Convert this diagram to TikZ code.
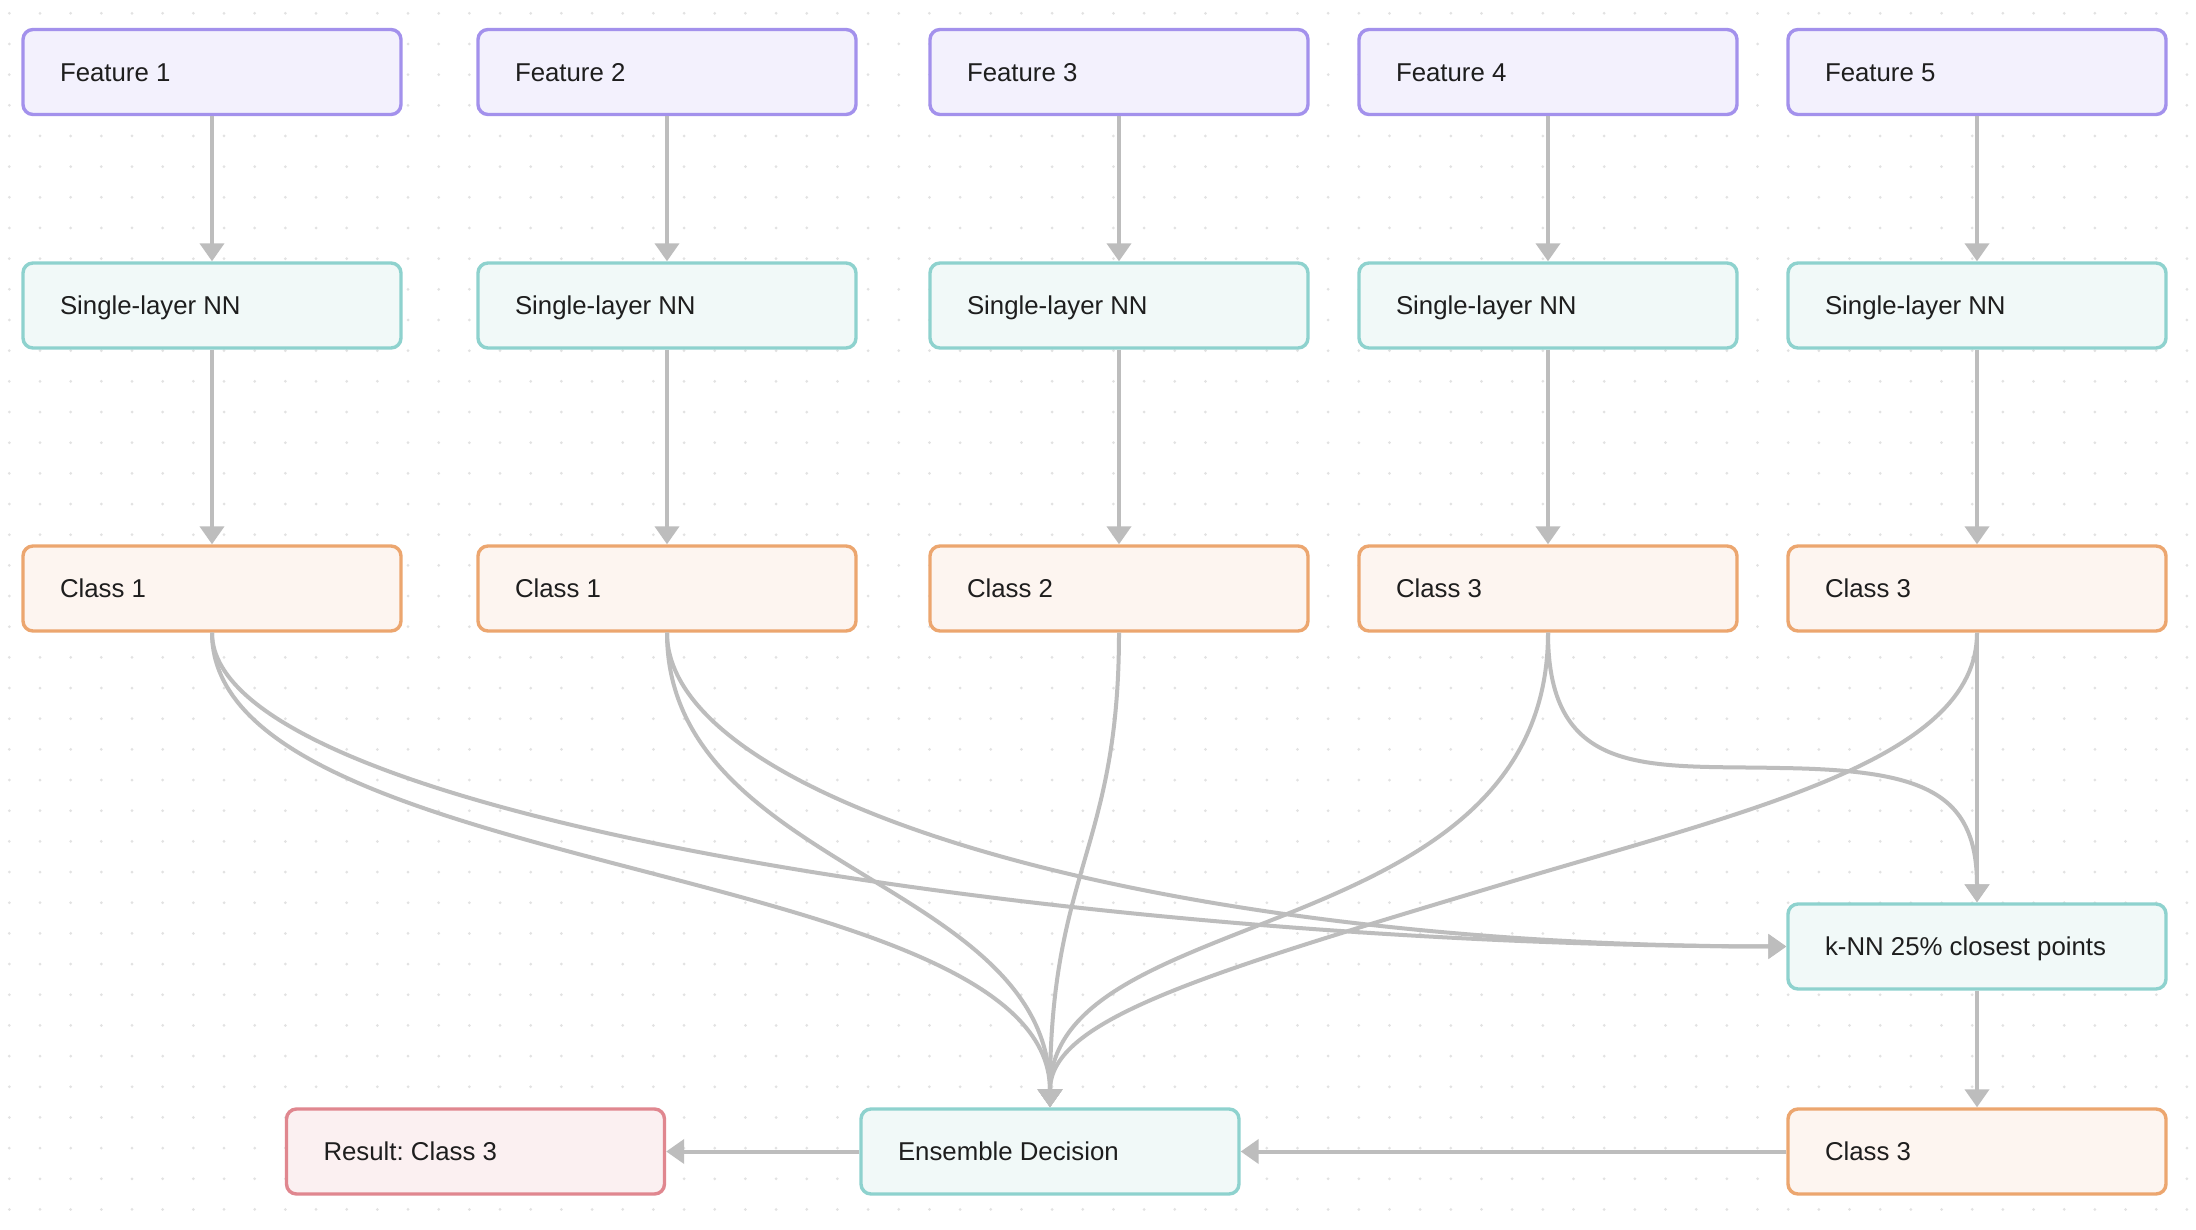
\documentclass[tikz,border=0pt]{standalone}
\usepackage{fontspec}
\setmainfont{Liberation Sans}
\usetikzlibrary{arrows.meta}
\frenchspacing

\definecolor{featD}{HTML}{A391EC}
\definecolor{featF}{HTML}{F3F1FD}
\definecolor{nnD}{HTML}{8ED2CE}
\definecolor{nnF}{HTML}{F1F9F8}
\definecolor{clsD}{HTML}{ECA66F}
\definecolor{clsF}{HTML}{FDF5F0}
\definecolor{resD}{HTML}{E0878F}
\definecolor{resF}{HTML}{FBF0F1}
\definecolor{linkC}{HTML}{BDBDBD}
\definecolor{dotC}{HTML}{E2E2E2}
\definecolor{ink}{HTML}{1E1E1E}

% fixed-width, left-aligned label inside each box
\newcommand\lbl[1]{\makebox[152pt][l]{#1}}

\begin{document}
\begin{tikzpicture}[x=0.5pt,y=-0.5pt,
  box/.style={rectangle, rounded corners=5pt, line width=1.7pt,
    minimum width=189pt, minimum height=42.5pt, inner sep=0pt,
    text height=9.2pt, text depth=0pt, text=ink,
    font=\fontsize{12.9pt}{15pt}\selectfont},
  feat/.style={box, draw=featD, fill=featF},
  net/.style={box, draw=nnD, fill=nnF},
  cls/.style={box, draw=clsD, fill=clsF},
  res/.style={box, draw=resD, fill=resF},
  link/.style={draw=linkC, line width=2pt,
    -{Triangle[width=12pt,length=9pt]}},
]
\useasboundingbox (0,0) rectangle (2196,1230);
\fill[white] (0,0) rectangle (2196,1230);
% dotted canvas
\foreach \i in {0,...,71}
  \foreach \j in {0,...,39}
    \fill[dotC] (9.33+\i*30.67, 13.3+\j*30.67) circle (0.75pt);

% feature inputs
\node[feat] (f1) at (212,72)   {\lbl{Feature 1}};
\node[feat] (f2) at (667,72)   {\lbl{Feature 2}};
\node[feat] (f3) at (1119,72)  {\lbl{Feature 3}};
\node[feat] (f4) at (1548,72)  {\lbl{Feature 4}};
\node[feat] (f5) at (1977,72)  {\lbl{Feature 5}};

% per-feature networks
\node[net] (n1) at (212,305.5)  {\lbl{Single-layer NN}};
\node[net] (n2) at (667,305.5)  {\lbl{Single-layer NN}};
\node[net] (n3) at (1119,305.5) {\lbl{Single-layer NN}};
\node[net] (n4) at (1548,305.5) {\lbl{Single-layer NN}};
\node[net] (n5) at (1977,305.5) {\lbl{Single-layer NN}};

% per-feature predictions
\node[cls] (c1) at (212,588.5)  {\lbl{Class 1}};
\node[cls] (c2) at (667,588.5)  {\lbl{Class 1}};
\node[cls] (c3) at (1119,588.5) {\lbl{Class 2}};
\node[cls] (c4) at (1548,588.5) {\lbl{Class 3}};
\node[cls] (c5) at (1977,588.5) {\lbl{Class 3}};

% k-NN stage and final decision
\node[net] (knn) at (1977,946.5)  {\lbl{k-NN 25\% closest points}};
\node[cls] (c3b) at (1977,1151.5) {\lbl{Class 3}};
\node[net] (ens) at (1050,1151.5) {\lbl{Ensemble Decision}};
\node[res] (res) at (475.5,1151.5) {\lbl{Result: Class 3}};

% straight flows
\foreach \k in {1,...,5}{
  \draw[link] (f\k.south) -- (n\k.north);
  \draw[link] (n\k.south) -- (c\k.north);
}

% votes into the ensemble
\draw[link] (c1.south) .. controls (212,880) and (1050,860) .. (ens.north);
\draw[link] (c2.south) .. controls (667,870) and (1050,880) .. (ens.north);
\draw[link] (c3.south) .. controls (1119,850) and (1050,870) .. (ens.north);
\draw[link] (c4.south) .. controls (1548,950) and (1050,900) .. (ens.north);
\draw[link] (c5.south) .. controls (1977,760) and (1750,810) .. (1500,885)
  .. controls (1200,975) and (1050,1020) .. (ens.north);

% inputs to the k-NN stage
\draw[link] (c1.south) .. controls (212,820) and (1100,946) .. (knn.west);
\draw[link] (c2.south) .. controls (667,800) and (1150,946) .. (knn.west);
\draw[link] (c4.south) .. controls (1548,780) and (1650,765) .. (1780,768)
  .. controls (1920,770) and (1977,790) .. (knn.north);
\draw[link] (c5.south) -- (knn.north);

% bottom row
\draw[link] (knn.south) -- (c3b.north);
\draw[link] (c3b.west) -- (ens.east);
\draw[link] (ens.west) -- (res.east);
\end{tikzpicture}
\end{document}
